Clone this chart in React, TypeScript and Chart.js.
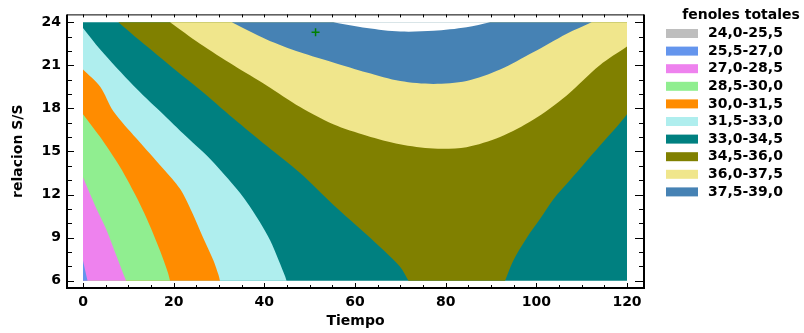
import React, { useEffect, useRef } from 'react';
import { Chart, registerables } from 'chart.js';

Chart.register(...registerables);

// Legend levels of "fenoles totales"
const levelLabels = ['24,0-25,5', '25,5-27,0', '27,0-28,5', '28,5-30,0', '30,0-31,5', '31,5-33,0', '33,0-34,5', '34,5-36,0', '36,0-37,5', '37,5-39,0'];
const levelColors = ['#BEBEBE', '#6495ED', '#EE82EE', '#90EE90', '#FF8C00', '#AFEEEE', '#008080', '#808000', '#F0E68C', '#4682B4'];

// Axis tick labels
const xTicks = [0, 20, 40, 60, 80, 100, 120];
const yTicks = [6, 9, 12, 15, 18, 21, 24];

// Data domain (Tiempo, relacion S/S)
const xDomain = [0, 120];
const yDomain = [6, 24];

// Contour lines: [Tiempo, relacion S/S]
const c270 = [[0, 7.4], [1, 6]];
const c285 = [[0, 13.2], [1.2, 12.3], [3.0, 11.0], [5.1, 9.6], [7.3, 7.8], [9.5, 6]];
const c300 = [[0, 17.6], [3.8, 16.0], [8.2, 13.9], [11.5, 12.0], [14.1, 10.3], [17.0, 8.1], [18.7, 6.6], [19.2, 6]];
const c315 = [[0, 20.7], [3.8, 19.5], [6.7, 17.8], [11.8, 15.9], [17.7, 13.8], [21.4, 12.4], [24.0, 10.8], [26.5, 9.0], [28.8, 7.4], [29.9, 6.4], [30.2, 6]];
const c330 = [[0, 23.6], [3.8, 22.1], [11.1, 19.6], [17.0, 17.8], [22.9, 16.0], [28.0, 14.5], [32.0, 13.1], [35.4, 11.8], [39.0, 10.1], [41.3, 8.8], [43.2, 7.4], [44.6, 6.3], [44.9, 6]];
const c345Left = [[7.8, 24], [12.6, 22.7], [19.9, 20.8], [25.8, 19.3], [33.2, 17.3], [40.5, 15.4], [47.9, 13.5], [55.2, 11.3], [62.6, 9.2], [69.9, 7.0], [71.8, 6]];
const c345Right = [[93.1, 6], [94.9, 7.4], [97.9, 9.0], [100.8, 10.3], [103.8, 11.7], [107.4, 13.0], [110.7, 14.2], [114.0, 15.4], [117.7, 16.7], [120, 17.6]];
const c360 = [[19.2, 24], [25.8, 22.5], [33.2, 21.0], [40.5, 19.6], [47.9, 18.1], [55.2, 16.9], [62.6, 16.1], [69.9, 15.5], [77.3, 15.2], [84.6, 15.3], [92.0, 16.0], [99.3, 17.2], [106.7, 18.9], [114.0, 21.0], [120, 22.3]];
const c375 = [[32.8, 24], [40.5, 22.8], [47.9, 21.9], [55.2, 21.2], [62.6, 20.5], [70.0, 19.9], [77.3, 19.7], [84.6, 19.9], [92.0, 20.7], [99.3, 21.9], [106.7, 23.2], [112.2, 24]];
const c390 = [[55.2, 24], [62.6, 23.6], [70.0, 23.35], [77.3, 23.4], [84.6, 23.65], [89.8, 24]];

// Optimum marker
const markerPoint = [[51.3, 23.3]];

const FONT = 'DejaVu Sans';

type Pt = number[];
const toXY = (pts: Pt[]) => pts.map(([x, y]) => ({ x, y }));
// a corner is repeated so the smoothed outline keeps a sharp vertex there
const corner = (p: Pt): Pt[] => [p, p];
const curve = (c: Pt[]): Pt[] => [c[0], ...c, c[c.length - 1]];

function buildRegions() {
  const [x0, x1] = xDomain;
  const [y0, y1] = yDomain;
  const BL = [x0, y0], BR = [x1, y0], TR = [x1, y1], TL = [x0, y1];
  // painter order: first = bottom-most
  const regions: { color: string; pts: Pt[] }[] = [
    { color: levelColors[6], pts: [...corner(BL), ...corner(BR), ...corner(TR), ...corner(TL)] },
    { color: levelColors[7], pts: [...curve(c345Left), ...curve(c345Right), ...corner(TR)] },
    { color: levelColors[8], pts: [...curve(c360), ...corner(TR)] },
    { color: levelColors[9], pts: [...curve(c375)] },
    { color: '#FFFFFF', pts: [...curve(c390)] },
    { color: levelColors[5], pts: [...corner(BL), ...curve(c330)] },
    { color: levelColors[4], pts: [...corner(BL), ...curve(c315)] },
    { color: levelColors[3], pts: [...corner(BL), ...curve(c300)] },
    { color: levelColors[2], pts: [...corner(BL), ...curve(c285)] },
    { color: levelColors[1], pts: [...corner(BL), ...curve(c270)] },
  ];
  const n = regions.length;
  return regions.map((r, i) => ({
    type: 'scatter' as const,
    data: toXY([...r.pts, r.pts[0], r.pts[0]]),
    showLine: true,
    fill: 'shape',
    backgroundColor: r.color,
    borderColor: r.color,
    borderWidth: 0,
    pointRadius: 0,
    tension: 0.3,
    order: n - i + 1,
  }));
}

const framePlugin = {
  id: 'frameAndLegend',
  afterDraw(chart: any) {
    const { ctx, chartArea: a, scales } = chart;
    const xs = scales.x;
    const ys = scales.y;
    ctx.save();
    ctx.strokeStyle = '#000';
    ctx.lineCap = 'butt';
    // ticks
    ctx.lineWidth = 1;
    ctx.beginPath();
    for (let v = xDomain[0]; v <= xDomain[1]; v += 5) {
      const px = Math.round(xs.getPixelForValue(v)) + 0.5;
      const major = v % 20 === 0;
      ctx.moveTo(px, a.bottom);
      ctx.lineTo(px, a.bottom - (major ? 5 : 3));
      ctx.moveTo(px, a.top);
      ctx.lineTo(px, a.top + 3);
    }
    for (let v = yDomain[0]; v <= yDomain[1]; v += 1) {
      const py = Math.round(ys.getPixelForValue(v)) + 0.5;
      const major = v % 3 === 0;
      ctx.moveTo(a.left, py);
      ctx.lineTo(a.left + (major ? 7 : 5), py);
      ctx.moveTo(a.right, py);
      ctx.lineTo(a.right - (major ? 9 : 5), py);
    }
    ctx.stroke();
    // frame
    ctx.lineWidth = 1;
    ctx.beginPath();
    ctx.moveTo(a.left, a.top + 0.5);
    ctx.lineTo(a.right, a.top + 0.5);
    ctx.stroke();
    ctx.lineWidth = 2;
    ctx.beginPath();
    ctx.moveTo(a.right, a.top);
    ctx.lineTo(a.right, a.bottom);
    ctx.lineTo(a.left, a.bottom);
    ctx.lineTo(a.left, a.top);
    ctx.stroke();

    // legend
    ctx.fillStyle = '#000';
    ctx.font = `bold 14px "${FONT}"`;
    ctx.textAlign = 'center';
    ctx.textBaseline = 'middle';
    ctx.fillText('fenoles totales', 741, 15);
    ctx.textAlign = 'left';
    levelLabels.forEach((lab, i) => {
      const cy = 33.5 + i * 17.6;
      ctx.fillStyle = levelColors[i];
      ctx.fillRect(666, cy - 4.5, 32, 9);
      ctx.fillStyle = '#000';
      ctx.fillText(lab, 708, cy);
    });
    ctx.restore();
  },
};

export default function App() {
  const ref = useRef<HTMLCanvasElement | null>(null);
  useEffect(() => {
    if (!ref.current) return;
    const tickFont = { family: FONT, size: 14, weight: 'bold' as const };
    const datasets: any[] = buildRegions();
    datasets.push({
      type: 'scatter',
      data: toXY(markerPoint),
      showLine: false,
      pointStyle: 'cross',
      pointRadius: 4,
      borderColor: '#008000',
      borderWidth: 1.5,
      backgroundColor: '#008000',
      order: 0,
    });
    const chart = new Chart(ref.current, {
      type: 'scatter',
      data: { datasets },
      options: {
        animation: false,
        responsive: true,
        maintainAspectRatio: false,
        layout: { padding: { top: 7, right: 160, left: 0, bottom: 0 } },
        plugins: { legend: { display: false }, tooltip: { enabled: false } },
        scales: {
          x: {
            type: 'linear',
            min: -3.53,
            max: 123.75,
            grid: { display: false, drawTicks: false },
            border: { display: false },
            ticks: { padding: 6, color: '#000', font: tickFont, maxRotation: 0, autoSkip: false },
            afterBuildTicks: (s: any) => { s.ticks = xTicks.map((v) => ({ value: v })); },
            afterFit: (s: any) => { s.height = 45; },
            title: { display: true, text: 'Tiempo', color: '#000', font: tickFont, padding: { top: 0, bottom: 3 } },
          },
          y: {
            type: 'linear',
            min: 5.5,
            max: 24.54,
            grid: { display: false, drawTicks: false },
            border: { display: false },
            ticks: { padding: 6, color: '#000', font: tickFont, autoSkip: false },
            afterBuildTicks: (s: any) => { s.ticks = yTicks.map((v) => ({ value: v })); },
            afterFit: (s: any) => { s.width = 67; },
            title: { display: true, text: 'relacion S/S', color: '#000', font: tickFont, padding: { top: 10, bottom: 0 } },
          },
        },
      },
      plugins: [framePlugin],
    } as any);
    return () => chart.destroy();
  }, []);
  return (
    <div style={{ position: 'absolute', left: 0, top: 0, width: 804, height: 333 }}>
      <canvas ref={ref} />
    </div>
  );
}
